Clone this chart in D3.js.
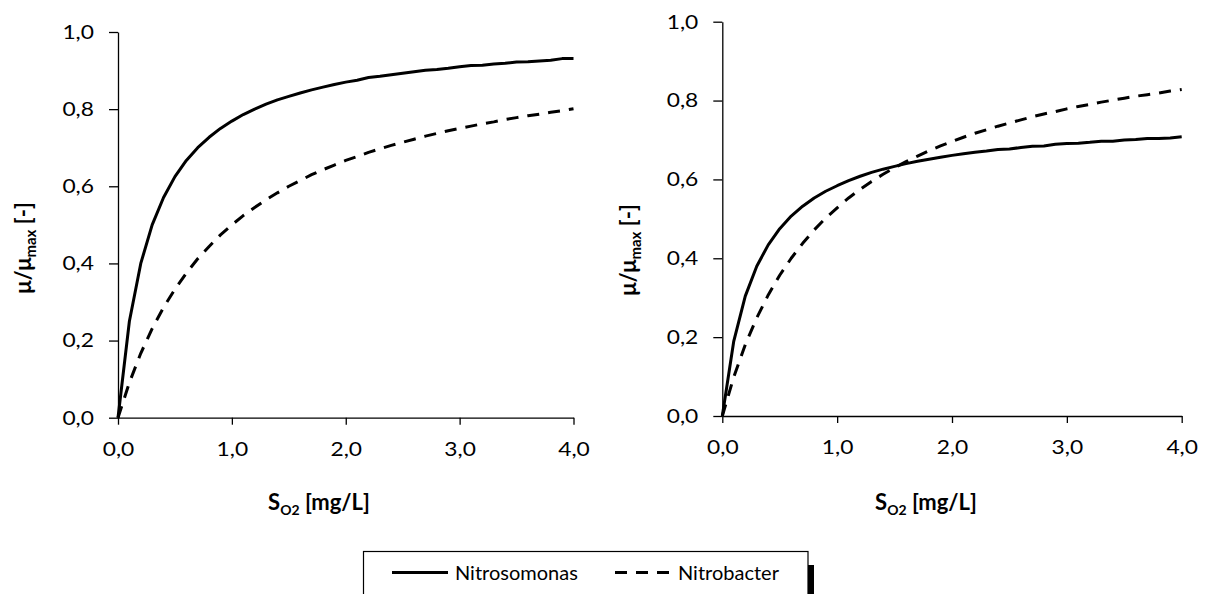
<!DOCTYPE html>
<html>
<head>
<meta charset="utf-8">
<script src="https://cdn.jsdelivr.net/npm/d3@7"></script>
<style>
  body { margin: 0; background: #fff; }
  svg text { font-family: Lato, "Open Sans", sans-serif; fill: #000; }
</style>
</head>
<body>
<svg id="chart" width="1207" height="594"></svg>
<script>
// Dissolved oxygen concentration S_O2 [mg/L]
const oxygen = [0.0, 0.1, 0.2, 0.3, 0.4, 0.5, 0.6, 0.7, 0.8, 0.9,
                1.0, 1.1, 1.2, 1.3, 1.4, 1.5, 1.6, 1.7, 1.8, 1.9,
                2.0, 2.1, 2.2, 2.3, 2.4, 2.5, 2.6, 2.7, 2.8, 2.9,
                3.0, 3.1, 3.2, 3.3, 3.4, 3.5, 3.6, 3.7, 3.8, 3.9, 4.0];

// Relative growth rate mu/mu_max, left panel
const nitrosomonasA = [0.000, 0.250, 0.400, 0.500, 0.571, 0.625, 0.667, 0.700, 0.727, 0.750,
                       0.769, 0.786, 0.800, 0.813, 0.824, 0.833, 0.842, 0.850, 0.857, 0.864,
                       0.870, 0.875, 0.882, 0.885, 0.889, 0.893, 0.897, 0.901, 0.903, 0.906,
                       0.910, 0.913, 0.914, 0.917, 0.919, 0.922, 0.923, 0.925, 0.927, 0.931, 0.931];
const nitrobacterA  = [0.000, 0.091, 0.167, 0.231, 0.286, 0.333, 0.375, 0.412, 0.444, 0.474,
                       0.500, 0.524, 0.545, 0.565, 0.583, 0.600, 0.615, 0.630, 0.643, 0.655,
                       0.667, 0.677, 0.688, 0.697, 0.706, 0.714, 0.722, 0.730, 0.737, 0.744,
                       0.750, 0.756, 0.762, 0.767, 0.773, 0.778, 0.783, 0.787, 0.792, 0.796, 0.801];

// Relative growth rate mu/mu_max, right panel
const nitrosomonasB = [0.000, 0.190, 0.304, 0.380, 0.434, 0.475, 0.507, 0.532, 0.553, 0.570,
                       0.584, 0.597, 0.608, 0.618, 0.626, 0.633, 0.640, 0.646, 0.651, 0.656,
                       0.661, 0.665, 0.669, 0.672, 0.676, 0.677, 0.681, 0.684, 0.685, 0.689,
                       0.691, 0.692, 0.694, 0.697, 0.697, 0.700, 0.701, 0.704, 0.704, 0.705, 0.708];
const nitrobacterB  = [0.000, 0.099, 0.181, 0.249, 0.307, 0.357, 0.400, 0.438, 0.472, 0.502,
                       0.528, 0.553, 0.575, 0.595, 0.613, 0.630, 0.645, 0.659, 0.673, 0.685,
                       0.696, 0.707, 0.717, 0.726, 0.735, 0.743, 0.751, 0.759, 0.766, 0.772,
                       0.779, 0.785, 0.790, 0.796, 0.801, 0.806, 0.811, 0.815, 0.819, 0.824, 0.828];

const seriesNames = ["Nitrosomonas", "Nitrobacter"];
const xTickValues = [0, 1, 2, 3, 4];
const xTickLabels = ["0,0", "1,0", "2,0", "3,0", "4,0"];
const yTickValues = [0, 0.2, 0.4, 0.6, 0.8, 1.0];
const yTickLabels = ["0,0", "0,2", "0,4", "0,6", "0,8", "1,0"];

const svg = d3.select("#chart");
const FONT = 20;

// widen tick labels slightly to the proportions of the original typeface
function widen(sel, factor) {
  sel.each(function () {
    const w = this.getComputedTextLength();
    this.setAttribute("textLength", (w * factor).toFixed(1));
    this.setAttribute("lengthAdjust", "spacingAndGlyphs");
  });
}

const panels = [
  { left: 118, right: 573.5, top: 32, bottom: 417.7,
    xTitleX: 319, yTitleX: 31, yTitleY: 248,
    series: [nitrosomonasA, nitrobacterA] },
  { left: 722.3, right: 1181.7, top: 21.7, bottom: 416,
    xTitleX: 926, yTitleX: 636, yTitleY: 250,
    series: [nitrosomonasB, nitrobacterB] }
];

const dashes = [null, "12,9"];

panels.forEach(p => {
  const x = d3.scaleLinear().domain([0, 4]).range([p.left, p.right]);
  const y = d3.scaleLinear().domain([0, 1]).range([p.bottom, p.top]);
  const g = svg.append("g");

  // y axis
  const yAxis = d3.axisLeft(y).tickValues(yTickValues)
    .tickFormat((d, i) => yTickLabels[i]).tickSize(9).tickSizeOuter(0).tickPadding(15);
  const ya = g.append("g").attr("transform", `translate(${p.left},0)`).call(yAxis);

  // x axis
  const xAxis = d3.axisBottom(x).tickValues(xTickValues)
    .tickFormat((d, i) => xTickLabels[i]).tickSize(7).tickSizeOuter(0).tickPadding(17);
  const xa = g.append("g").attr("transform", `translate(0,${p.bottom})`).call(xAxis);

  [ya, xa].forEach(a => {
    a.selectAll("path.domain").attr("stroke", "#000").attr("stroke-width", 1.3);
    a.selectAll(".tick line").attr("stroke", "#000").attr("stroke-width", 1.3);
    a.selectAll(".tick text").style("font-size", FONT + "px").attr("fill", "#000");
    widen(a.selectAll(".tick text"), 1.14);
  });

  // curves
  const line = d3.line().x((d, i) => x(oxygen[i])).y(d => y(d));
  p.series.forEach((vals, k) => {
    g.append("path").datum(vals)
      .attr("d", line)
      .attr("fill", "none")
      .attr("stroke", "#000")
      .attr("stroke-width", 3)
      .attr("stroke-linejoin", "round")
      .attr("stroke-dasharray", dashes[k]);
  });

  // x axis title
  const xt = g.append("text")
    .attr("x", p.xTitleX).attr("y", 510)
    .attr("text-anchor", "middle")
    .style("font-size", "22px").style("font-weight", "bold");
  xt.append("tspan").text("S");
  xt.append("tspan").attr("dy", 5).style("font-size", "14px").text("O2");
  xt.append("tspan").attr("dy", -5).text(" [mg/L]");

  // y axis title
  const yt = g.append("text")
    .attr("transform", `translate(${p.yTitleX},${p.yTitleY}) rotate(-90)`)
    .attr("text-anchor", "middle")
    .style("font-size", "22px").style("font-weight", "bold");
  yt.append("tspan").text("μ/μ");
  yt.append("tspan").attr("dy", 5).style("font-size", "15px").text("max");
  yt.append("tspan").attr("dy", -5).text(" [-]");
});

// legend
const lg = svg.append("g");
lg.append("rect").attr("x", 808).attr("y", 565).attr("width", 6).attr("height", 40).attr("fill", "#000");
lg.append("rect").attr("x", 363.5).attr("y", 551.5).attr("width", 444.5).attr("height", 60)
  .attr("fill", "#fff").attr("stroke", "#000").attr("stroke-width", 1.2);

const entries = [
  { x0: 392, x1: 448, tx: 455 },
  { x0: 615, x1: 672, tx: 678 }
];
entries.forEach((e, k) => {
  lg.append("line").attr("x1", e.x0).attr("x2", e.x1).attr("y1", 572.5).attr("y2", 572.5)
    .attr("stroke", "#000").attr("stroke-width", 3)
    .attr("stroke-dasharray", dashes[k]);
  lg.append("text").attr("x", e.tx).attr("y", 580)
    .style("font-size", FONT + "px").text(seriesNames[k]);
});
</script>
</body>
</html>
